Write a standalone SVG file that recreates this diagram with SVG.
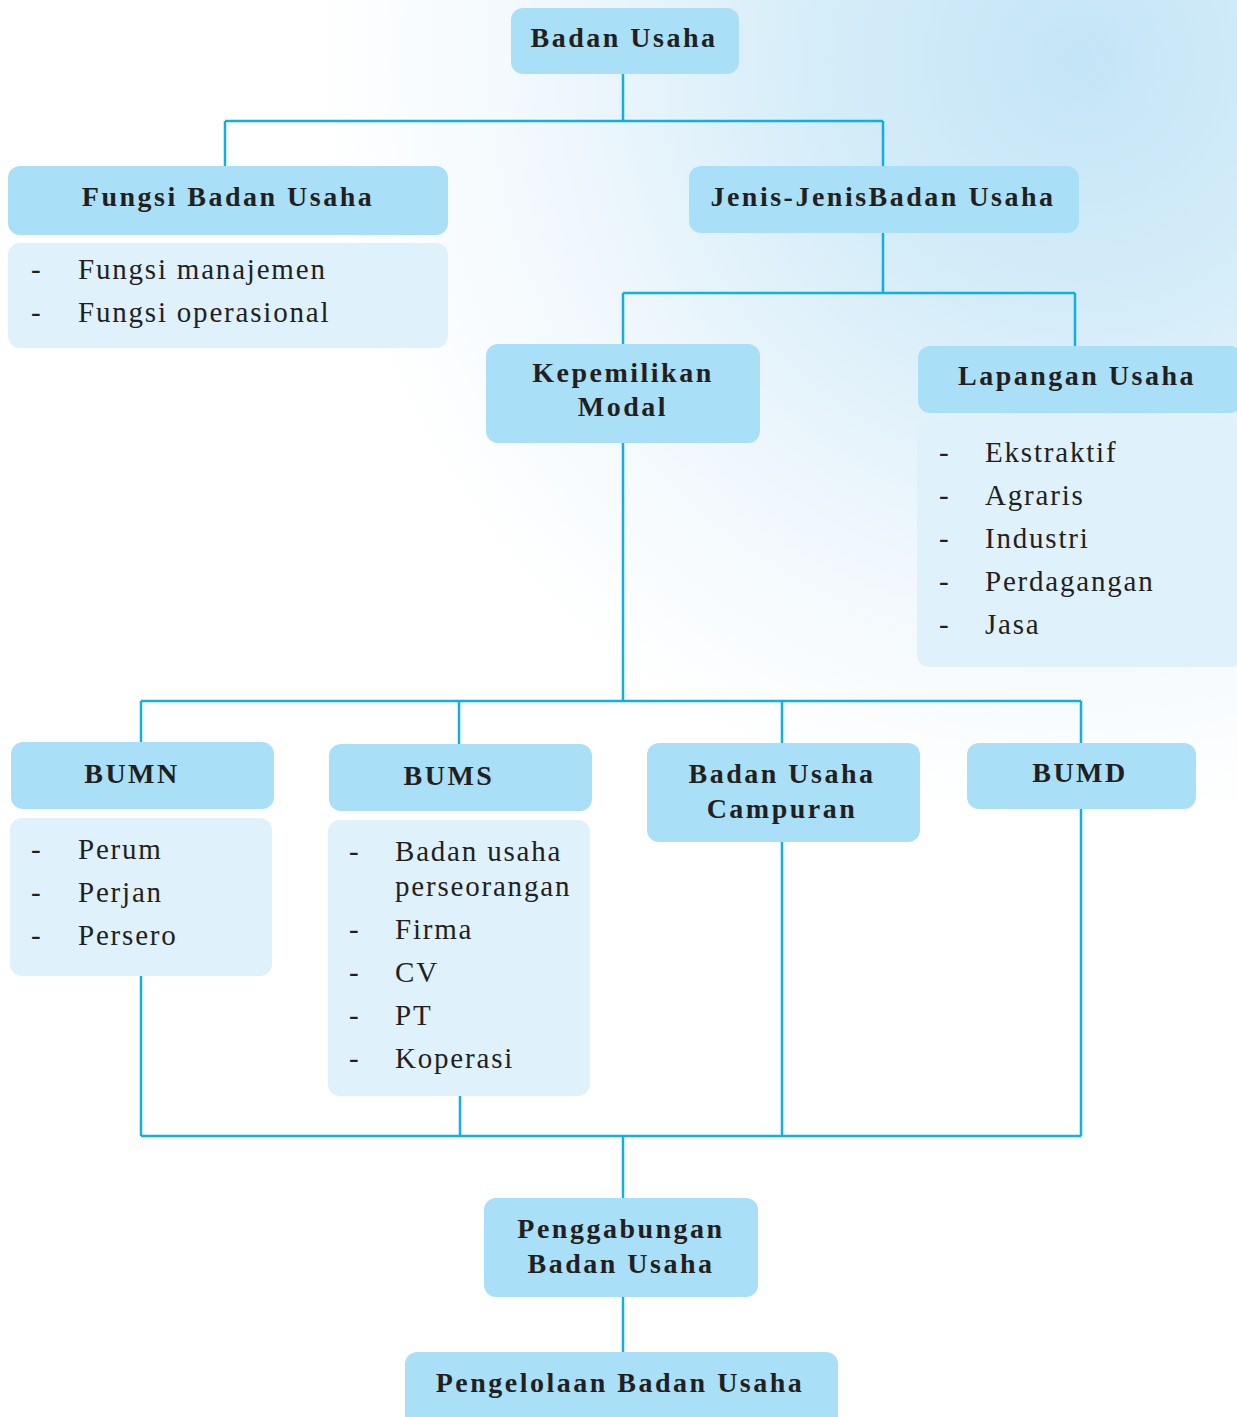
<svg xmlns="http://www.w3.org/2000/svg" width="1237" height="1417" viewBox="0 0 1237 1417">
<defs>
<radialGradient id="bg" gradientUnits="userSpaceOnUse" cx="1080" cy="60" r="900">
<stop offset="0" stop-color="#c4e5f7"/>
<stop offset="0.3" stop-color="#d6edf9"/>
<stop offset="0.6" stop-color="#f1f8fd"/>
<stop offset="0.85" stop-color="#ffffff"/>
</radialGradient>
<style>
.h{fill:#aadff8}
.l{fill:#dff1fb}
.c{stroke:#12aee8;stroke-width:2.5;fill:none}
.t{font-family:"Liberation Serif",serif;font-weight:bold;font-size:28px;fill:#231f20;text-anchor:middle;letter-spacing:2.5px}
.i{font-family:"Liberation Serif",serif;font-size:29px;fill:#231f20;letter-spacing:1.8px}
</style>
</defs>
<rect width="1237" height="1417" fill="#ffffff"/>
<rect width="1237" height="1417" fill="url(#bg)"/>
<g id="connectors" class="c">
<path d="M623 74V121M225 121H883M225 121V166M883 121V166"/>
<path d="M883 233V293M623 293H1075M623 293V344M1075 293V346"/>
<path d="M623 443V701M141 701H1081M141 701V742M459 701V744M782 701V743M1081 701V743"/>
<path d="M141 976V1136M460 1096V1136M782 842V1136M1081 809V1136M141 1136H1081M623 1136V1198"/>
<path d="M623 1297V1352"/>
</g>
<g id="badan-usaha"><rect class="h" x="511" y="8" width="228" height="66" rx="12"/><text class="t" x="624" y="47">Badan Usaha</text></g>
<g id="fungsi"><rect class="h" x="8" y="166" width="440" height="69" rx="12"/><text class="t" x="228" y="206">Fungsi Badan Usaha</text></g>
<g id="fungsi-list"><rect class="l" x="8" y="243" width="440" height="105" rx="12"/>
<text class="i" x="31" y="279">-</text><text class="i" x="78" y="279">Fungsi manajemen</text>
<text class="i" x="31" y="322">-</text><text class="i" x="78" y="322">Fungsi operasional</text></g>
<g id="jenis"><rect class="h" x="689" y="166" width="390" height="67" rx="12"/><text class="t" x="883" y="206">Jenis-JenisBadan Usaha</text></g>
<g id="kepemilikan"><rect class="h" x="486" y="344" width="274" height="99" rx="12"/><text class="t" x="623" y="382">Kepemilikan</text><text class="t" x="623" y="416">Modal</text></g>
<g id="lapangan"><rect class="h" x="918" y="346" width="324" height="67" rx="12"/><text class="t" x="1077" y="385">Lapangan Usaha</text></g>
<g id="lapangan-list"><rect class="l" x="917" y="421" width="325" height="246" rx="12"/>
<text class="i" x="939" y="462">-</text><text class="i" x="985" y="462">Ekstraktif</text>
<text class="i" x="939" y="505">-</text><text class="i" x="985" y="505">Agraris</text>
<text class="i" x="939" y="548">-</text><text class="i" x="985" y="548">Industri</text>
<text class="i" x="939" y="591">-</text><text class="i" x="985" y="591">Perdagangan</text>
<text class="i" x="939" y="634">-</text><text class="i" x="985" y="634">Jasa</text></g>
<g id="bumn"><rect class="h" x="11" y="742" width="263" height="67" rx="12"/><text class="t" x="132" y="783">BUMN</text></g>
<g id="bumn-list"><rect class="l" x="10" y="818" width="262" height="158" rx="12"/>
<text class="i" x="31" y="859">-</text><text class="i" x="78" y="859">Perum</text>
<text class="i" x="31" y="902">-</text><text class="i" x="78" y="902">Perjan</text>
<text class="i" x="31" y="945">-</text><text class="i" x="78" y="945">Persero</text></g>
<g id="bums"><rect class="h" x="329" y="744" width="263" height="67" rx="12"/><text class="t" x="449" y="785">BUMS</text></g>
<g id="bums-list"><rect class="l" x="328" y="820" width="262" height="276" rx="12"/>
<text class="i" x="349" y="861">-</text><text class="i" x="395" y="861">Badan usaha</text>
<text class="i" x="395" y="896">perseorangan</text>
<text class="i" x="349" y="939">-</text><text class="i" x="395" y="939">Firma</text>
<text class="i" x="349" y="982">-</text><text class="i" x="395" y="982">CV</text>
<text class="i" x="349" y="1025">-</text><text class="i" x="395" y="1025">PT</text>
<text class="i" x="349" y="1068">-</text><text class="i" x="395" y="1068">Koperasi</text></g>
<g id="campuran"><rect class="h" x="647" y="743" width="273" height="99" rx="12"/><text class="t" x="782" y="783">Badan Usaha</text><text class="t" x="782" y="818">Campuran</text></g>
<g id="bumd"><rect class="h" x="967" y="743" width="229" height="66" rx="12"/><text class="t" x="1080" y="782">BUMD</text></g>
<g id="penggabungan"><rect class="h" x="484" y="1198" width="274" height="99" rx="12"/><text class="t" x="621" y="1238">Penggabungan</text><text class="t" x="621" y="1273">Badan Usaha</text></g>
<g id="pengelolaan"><rect class="h" x="405" y="1352" width="433" height="80" rx="12"/><text class="t" x="620" y="1392">Pengelolaan Badan Usaha</text></g>
</svg>
